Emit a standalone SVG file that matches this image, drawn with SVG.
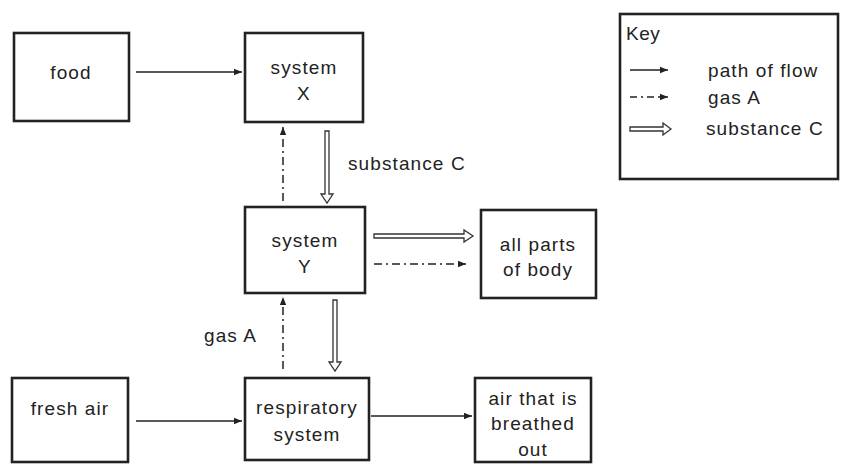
<svg xmlns="http://www.w3.org/2000/svg" width="842" height="469" viewBox="0 0 842 469">
<defs>
<marker id="ah" viewBox="0 0 10 10" refX="10" refY="5" markerWidth="8" markerHeight="8" markerUnits="userSpaceOnUse" orient="auto"><path d="M0,1 L10,5 L0,9 z" fill="#222"/></marker>
<style>
.box{fill:#fff;stroke:#222;stroke-width:2.6}
.t{font-family:"Liberation Sans",Arial,sans-serif;font-size:19px;letter-spacing:1.1px;fill:#222;text-anchor:middle}
.tl{font-family:"Liberation Sans",Arial,sans-serif;font-size:19px;letter-spacing:1.1px;fill:#222}
.solid{stroke:#222;stroke-width:1.5;fill:none;marker-end:url(#ah)}
.dd{stroke:#222;stroke-width:1.5;fill:none;stroke-dasharray:8 4 2 4;marker-end:url(#ah)}
.dbl{stroke:#333;stroke-width:1.3;fill:#fff}
</style>
</defs>
<rect width="842" height="469" fill="#fff"/>
<g id="food"><rect class="box" x="14" y="33" width="115" height="88"/><text class="t" x="71" y="79">food</text></g>
<g id="systemX"><rect class="box" x="245" y="33" width="118" height="89"/><text class="t" x="304" y="74">system</text><text class="t" x="304" y="100">X</text></g>
<g id="systemY"><rect class="box" x="245" y="207" width="120" height="86"/><text class="t" x="305" y="247">system</text><text class="t" x="305" y="273">Y</text></g>
<g id="allparts"><rect class="box" x="481" y="210" width="115" height="88"/><text class="t" x="538" y="251">all parts</text><text class="t" x="538" y="276">of body</text></g>
<g id="freshair"><rect class="box" x="12" y="378" width="116" height="84"/><text class="t" x="70" y="415">fresh air</text></g>
<g id="resp"><rect class="box" x="245" y="378" width="124" height="82"/><text class="t" x="307" y="414">respiratory</text><text class="t" x="307" y="441">system</text></g>
<g id="breathed"><rect class="box" x="475" y="378" width="116" height="84"/><text class="t" x="533" y="405">air that is</text><text class="t" x="533" y="430">breathed</text><text class="t" x="533" y="456">out</text></g>
<g id="connectors">
<line class="solid" x1="136" y1="72" x2="242" y2="72"/>
<line class="solid" x1="136" y1="421" x2="242" y2="421"/>
<line class="solid" x1="371" y1="416" x2="472" y2="416"/>
<line class="dd" x1="283" y1="201" x2="283" y2="127"/>
<line class="dd" x1="283" y1="369" x2="283" y2="297"/>
<line class="dd" x1="374" y1="264" x2="466" y2="264"/>
<path class="dbl" d="M325,131 V194 H321 L327,203 L333,194 H329 V131 Z"/>
<path class="dbl" d="M333,300 V362 H329 L335,371 L341,362 H337 V300 Z"/>
<path class="dbl" d="M374,234 H464 V230 L473,236 L464,242 V238 H374 Z"/>
</g>
<text class="tl" x="348" y="170">substance C</text>
<text class="tl" x="204" y="342">gas A</text>
<g id="key">
<rect class="box" x="620" y="14" width="218" height="165"/>
<text class="tl" x="626" y="40" style="letter-spacing:0.5px">Key</text>
<line class="solid" x1="630" y1="70" x2="668" y2="70"/>
<line class="dd" x1="630" y1="97" x2="668" y2="97" style="stroke-dasharray:7 4 2 4"/>
<path class="dbl" d="M630,127 H663 V123 L671,129 L663,135 V131 H630 Z"/>
<text class="tl" x="708" y="77">path of flow</text>
<text class="tl" x="708" y="104">gas A</text>
<text class="tl" x="706" y="135">substance C</text>
</g>
</svg>
